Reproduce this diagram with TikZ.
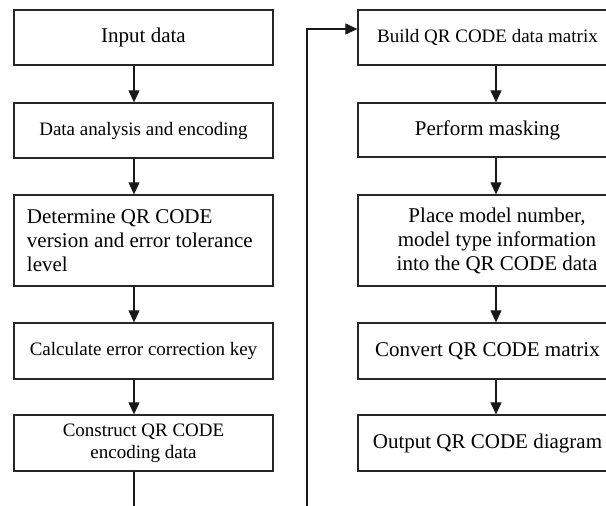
\documentclass[tikz,border=0pt]{standalone}
\usepackage{fontspec}
\setmainfont{Liberation Serif}
\usetikzlibrary{arrows.meta}
\begin{document}
\begin{tikzpicture}[x=1pt,y=-1pt,
  box/.style={draw=black!85,line width=1.3pt,minimum width=259pt,inner sep=0pt,anchor=center},
  big/.style={font=\fontsize{21}{24}\selectfont},
  small/.style={font=\fontsize{19}{22}\selectfont},
  arr/.style={draw=black!90,line width=1.1pt,-{Triangle[length=12pt,width=11pt]}},
  ln/.style={draw=black!90,line width=1.1pt}]
\useasboundingbox (0,0) rectangle (606,506);
\clip (0,0) rectangle (606,506);
\fill[white] (0,0) rectangle (606,506);
% left column
\node[box,big,minimum height=55pt] (b1) at (143.5,37.5) {Input data};
\node[box,small,minimum height=55pt] (b2) at (143.5,130.5) {Data analysis and encoding};
\node[box,big,minimum height=91pt,text width=233pt,align=flush left] (b3) at (143.5,240.5) {Determine QR CODE\\version and error tolerance\\level};
\node[box,small,minimum height=56pt] (b4) at (143.5,351) {Calculate error correction key};
\node[box,small,minimum height=56pt,align=center] (b5) at (143.5,443) {Construct QR CODE\\encoding data};
% right column
\node[box,small,minimum height=55pt] (r1) at (487.5,37.5) {Build QR CODE data matrix};
\node[box,big,minimum height=54pt] (r2) at (487.5,130) {Perform masking};
\node[box,minimum height=91pt] (r3) at (487.5,240.5) {};
\node[big,align=center,inner sep=0pt] (r3t) at (497,240.5) {Place model number,\\model type information\\into the QR CODE data};
\node[box,big,minimum height=56pt] (r4) at (487.5,351) {Convert QR CODE matrix};
\node[box,big,minimum height=56pt] (r5) at (487.5,443) {Output QR CODE diagram};
% arrow axes
\coordinate (axL) at (134,0);
\coordinate (axR) at (496,0);
\coordinate (botL) at (134,510);
\coordinate (botR) at (307,510);
\coordinate (topR) at (307,29);
% left arrows
\draw[arr] (b1.south -| axL) -- (b2.north -| axL);
\draw[arr] (b2.south -| axL) -- (b3.north -| axL);
\draw[arr] (b3.south -| axL) -- (b4.north -| axL);
\draw[arr] (b4.south -| axL) -- (b5.north -| axL);
\draw[ln] (b5.south -| axL) -- (botL);
% loop
\draw[arr] (botR) -- (topR) -- (r1.west |- topR);
% right arrows
\draw[arr] (r1.south -| axR) -- (r2.north -| axR);
\draw[arr] (r2.south -| axR) -- (r3.north -| axR);
\draw[arr] (r3.south -| axR) -- (r4.north -| axR);
\draw[arr] (r4.south -| axR) -- (r5.north -| axR);
\end{tikzpicture}
\end{document}
